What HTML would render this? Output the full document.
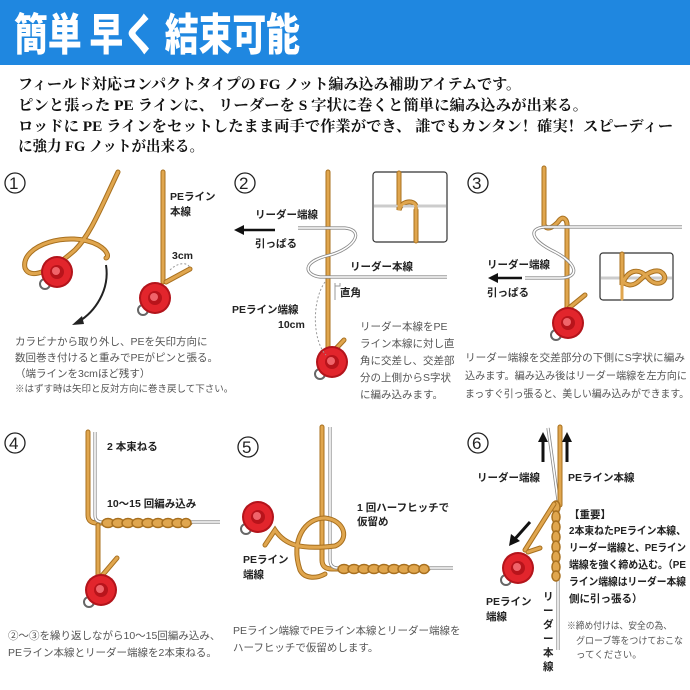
<!DOCTYPE html>
<html><head><meta charset="utf-8">
<style>
html,body{margin:0;padding:0;background:#fff;}
svg{display:block;}
.t{font-family:"Liberation Sans","Noto Sans CJK JP",sans-serif;fill:#555;font-size:10.5px;}
.b{font-family:"Liberation Sans","Noto Sans CJK JP",sans-serif;fill:#222;font-size:10.5px;font-weight:bold;}
.n{font-family:"Liberation Sans","Noto Sans CJK JP",sans-serif;fill:#222;font-size:17px;}
.r{fill:none;stroke:#a8701f;stroke-width:5;stroke-linecap:round;}
.ri{fill:none;stroke:#e0a64e;stroke-width:3;stroke-linecap:round;}
.w{fill:none;stroke:#888;stroke-width:3.2;}
.wi{fill:none;stroke:#fff;stroke-width:1.6;}
</style></head><body>
<svg width="690" height="690" viewBox="0 0 690 690" xmlns="http://www.w3.org/2000/svg">
<defs>
<g id="reel">
<circle cx="-12" cy="12" r="5" fill="none" stroke="#666" stroke-width="2"/>
<circle cx="0" cy="0" r="16" fill="#b3141b"/>
<circle cx="0" cy="0" r="14" fill="#e2252c"/>
<circle cx="0" cy="0" r="7" fill="#b8141b"/>
<circle cx="-1" cy="-1" r="4" fill="#f0646a"/>
</g>
<g id="num"><circle r="10" fill="none" stroke="#222" stroke-width="1.3"/></g>
</defs>
<rect x="0" y="0" width="690" height="65" fill="#1f87e0"/>
<text x="14" y="50" textLength="286" lengthAdjust="spacingAndGlyphs" style="font-family:'Noto Sans CJK JP',sans-serif;font-weight:900;font-size:44px;fill:#fff">簡単 早く 結束可能</text>
<g style="font-family:'Liberation Serif','Noto Serif CJK SC',serif;font-size:15px;fill:#111;font-weight:bold">
<text x="18" y="89" textLength="503" lengthAdjust="spacingAndGlyphs">フィールド対応コンパクトタイプの FG ノット編み込み補助アイテムです。</text>
<text x="18" y="110" textLength="570" lengthAdjust="spacingAndGlyphs">ピンと張った PE ラインに、 リーダーを S 字状に巻くと簡単に編み込みが出来る。</text>
<text x="18" y="131" textLength="655" lengthAdjust="spacingAndGlyphs">ロッドに PE ラインをセットしたまま両手で作業ができ、 誰でもカンタン！確実！スピーディー</text>
<text x="18" y="151" textLength="186" lengthAdjust="spacingAndGlyphs">に強力 FG ノットが出来る。</text>
</g>

<!-- Panel 1 -->
<use href="#num" x="15" y="183"/><text class="n" x="9" y="189">1</text>
<path class="r" d="M118,172 C100,210 90,235 75,250 C50,272 30,280 25,268 C20,245 70,230 98,245 C110,252 108,258 106,258"/>
<path class="ri" d="M118,172 C100,210 90,235 75,250 C50,272 30,280 25,268 C20,245 70,230 98,245 C110,252 108,258 106,258"/>
<path d="M106,265 C110,290 95,312 78,322" fill="none" stroke="#222" stroke-width="2"/>
<path d="M72,325 L82,316 L84,324 Z" fill="#222"/>
<use href="#reel" x="57" y="272"/>
<path class="r" d="M163,172 L163,282"/><path class="ri" d="M163,172 L163,282"/>
<path class="r" d="M166,282 L190,269"/><path class="ri" d="M166,282 L190,269"/>
<path d="M170,270 C178,262 188,262 190,268" fill="none" stroke="#999" stroke-dasharray="2,2"/>
<use href="#reel" x="155" y="298"/>
<text class="b" x="170" y="200">PEライン</text><text class="b" x="170" y="215">本線</text>
<text class="b" x="172" y="259">3cm</text>
<text class="t" x="15" y="345">カラビナから取り外し、PEを矢印方向に</text>
<text class="t" x="15" y="361">数回巻き付けると重みでPEがピンと張る。</text>
<text class="t" x="15" y="377">（端ラインを3cmほど残す）</text>
<text class="t" x="15" y="392" style="font-size:9.5px">※はずす時は矢印と反対方向に巻き戻して下さい。</text>

<!-- Panel 2 -->
<use href="#num" x="245" y="183"/><text class="n" x="239" y="189">2</text>
<path class="r" d="M328,172 L328,355"/><path class="ri" d="M328,172 L328,355"/>
<path class="r" d="M330,355 L344,340"/><path class="ri" d="M330,355 L344,340"/>
<path class="w" d="M298,228 L345,228 C365,230 355,248 330,255 C300,262 305,275 320,277 L447,277"/>
<path class="wi" d="M298,228 L345,228 C365,230 355,248 330,255 C300,262 305,275 320,277 L447,277"/>
<use href="#reel" x="332" y="362"/>
<text class="b" x="255" y="218">リーダー端線</text>
<path d="M240,230 L275,230" stroke="#111" stroke-width="2.5"/><path d="M234,230 L244,225 L244,235 Z" fill="#111"/>
<text class="b" x="255" y="247">引っぱる</text>
<text class="b" x="350" y="270">リーダー本線</text>
<path d="M335,283 L335,300 M335,286 L340,286 L340,283" stroke="#999" fill="none"/>
<text class="b" x="340" y="296">直角</text>
<path d="M325,282 C312,300 312,340 326,355" fill="none" stroke="#999" stroke-dasharray="2,2"/>
<text class="b" x="232" y="313">PEライン端線</text><text class="b" x="278" y="328">10cm</text>
<rect x="373" y="172" width="74" height="70" rx="3" fill="#fff" stroke="#333" stroke-width="1.2"/>
<path class="r" d="M399,173 L399,210 C402,200 414,200 416,206 M416,210 L416,241" stroke-width="4"/>
<path d="M374,206 L446,206" stroke="#999" stroke-width="2.5"/><path d="M374,206 L446,206" stroke="#fff" stroke-width="1"/>
<path class="ri" d="M399,173 L399,210 C402,200 414,200 416,206 L416,241"/>
<text class="t" x="360" y="330">リーダー本線をPE</text>
<text class="t" x="360" y="347">ライン本線に対し直</text>
<text class="t" x="360" y="364">角に交差し、交差部</text>
<text class="t" x="360" y="381">分の上側からS字状</text>
<text class="t" x="360" y="398">に編み込みます。</text>

<!-- Panel 3 -->
<use href="#num" x="478" y="183"/><text class="n" x="472" y="189">3</text>
<path class="r" d="M544,168 L544,225 C548,232 555,225 558,222 C562,215 568,218 567,228 L567,310"/>
<path class="ri" d="M544,168 L544,225 C548,232 555,225 558,222 C562,215 568,218 567,228 L567,310"/>
<path class="r" d="M569,308 L585,295"/><path class="ri" d="M569,308 L585,295"/>
<path class="w" d="M682,227 L545,227 C528,228 530,240 555,252 C578,264 580,278 560,278 L525,278"/>
<path class="wi" d="M682,227 L545,227 C528,228 530,240 555,252 C578,264 580,278 560,278 L525,278"/>
<use href="#reel" x="568" y="323"/>
<text class="b" x="487" y="268">リーダー端線</text>
<path d="M494,278 L522,278" stroke="#111" stroke-width="2.5"/><path d="M488,278 L498,273 L498,283 Z" fill="#111"/>
<text class="b" x="487" y="296">引っぱる</text>
<rect x="600" y="253" width="73" height="47" rx="3" fill="#fff" stroke="#333" stroke-width="1.2"/>
<path d="M601,278 L672,278" stroke="#999" stroke-width="2.5"/><path d="M601,278 L672,278" stroke="#fff" stroke-width="1"/>
<path class="r" d="M622,254 L622,285 C628,268 640,268 648,278 C656,288 668,282 664,275 C660,268 650,270 640,280 C632,288 625,285 622,280" stroke-width="4"/>
<path class="ri" d="M622,254 L622,299 M622,285 C628,268 640,268 648,278 C656,288 668,282 664,275 C660,268 650,270 640,280 C632,288 625,285 622,280"/>
<text class="t" x="465" y="361" textLength="220" lengthAdjust="spacingAndGlyphs">リーダー端線を交差部分の下側にS字状に編み</text>
<text class="t" x="465" y="379" textLength="222" lengthAdjust="spacingAndGlyphs">込みます。編み込み後はリーダー端線を左方向に</text>
<text class="t" x="465" y="397" textLength="224" lengthAdjust="spacingAndGlyphs">まっすぐ引っ張ると、美しい編み込みができます。</text>

<!-- Panel 4 -->
<use href="#num" x="15" y="443"/><text class="n" x="9" y="449">4</text>
<path class="r" d="M88,432 L88,515 Q88,523 97,523 L190,523"/><path class="ri" d="M88,432 L88,515 Q88,523 97,523 L190,523"/>
<path class="w" d="M95,432 L95,515 Q95,522 102,522 L220,522"/><path class="wi" d="M95,432 L95,515 Q95,522 102,522 L220,522"/>
<g fill="#e0a64e" stroke="#a8701f" stroke-width="1.5"><ellipse cx="108" cy="523" rx="6" ry="4.5"/><ellipse cx="118" cy="523" rx="6" ry="4.5"/><ellipse cx="128" cy="523" rx="6" ry="4.5"/><ellipse cx="138" cy="523" rx="6" ry="4.5"/><ellipse cx="148" cy="523" rx="6" ry="4.5"/><ellipse cx="158" cy="523" rx="6" ry="4.5"/><ellipse cx="168" cy="523" rx="6" ry="4.5"/><ellipse cx="178" cy="523" rx="6" ry="4.5"/><ellipse cx="186" cy="523" rx="5" ry="4.5"/></g>
<path class="r" d="M98,525 L98,582"/><path class="ri" d="M98,525 L98,582"/>
<path class="r" d="M100,578 L117,558"/><path class="ri" d="M100,578 L117,558"/>
<use href="#reel" x="101" y="590"/>
<text class="b" x="107" y="450">2 本束ねる</text>
<text class="b" x="107" y="507">10～15 回編み込み</text>
<text class="t" x="8" y="639">②～③を繰り返しながら10～15回編み込み、</text>
<text class="t" x="8" y="656">PEライン本線とリーダー端線を2本束ねる。</text>

<!-- Panel 5 -->
<use href="#num" x="248" y="447"/><text class="n" x="242" y="453">5</text>
<path class="r" d="M322,427 L322,560 Q322,569 332,569 L428,569"/><path class="ri" d="M322,427 L322,560 Q322,569 332,569 L428,569"/>
<path class="w" d="M330,427 L330,560 Q330,568 338,568 L453,568"/><path class="wi" d="M330,427 L330,560 Q330,568 338,568 L453,568"/>
<g fill="#e0a64e" stroke="#a8701f" stroke-width="1.5"><ellipse cx="344" cy="569" rx="6" ry="4.5"/><ellipse cx="354" cy="569" rx="6" ry="4.5"/><ellipse cx="364" cy="569" rx="6" ry="4.5"/><ellipse cx="374" cy="569" rx="6" ry="4.5"/><ellipse cx="384" cy="569" rx="6" ry="4.5"/><ellipse cx="394" cy="569" rx="6" ry="4.5"/><ellipse cx="404" cy="569" rx="6" ry="4.5"/><ellipse cx="414" cy="569" rx="6" ry="4.5"/><ellipse cx="424" cy="569" rx="5" ry="4.5"/></g>
<path class="r" d="M265,545 L275,530 C285,545 300,550 335,546 C350,540 345,520 325,518 C305,518 290,540 300,570 C305,580 318,578 325,574"/>
<path class="ri" d="M265,545 L275,530 C285,545 300,550 335,546 C350,540 345,520 325,518 C305,518 290,540 300,570 C305,580 318,578 325,574"/>
<use href="#reel" x="258" y="517"/>
<text class="b" x="243" y="563">PEライン</text><text class="b" x="243" y="578">端線</text>
<text class="b" x="357" y="511">1 回ハーフヒッチで</text><text class="b" x="357" y="525">仮留め</text>
<text class="t" x="233" y="634">PEライン端線でPEライン本線とリーダー端線を</text>
<text class="t" x="233" y="651">ハーフヒッチで仮留めします。</text>

<!-- Panel 6 -->
<use href="#num" x="478" y="443"/><text class="n" x="472" y="449">6</text>
<path class="w" d="M548,428 L558,500 L558,650"/><path class="wi" d="M548,428 L558,500 L558,650"/>
<path class="r" d="M560,427 L560,505"/><path class="ri" d="M560,427 L560,505"/>
<g fill="#e0a64e" stroke="#a8701f" stroke-width="1.5"><ellipse cx="556" cy="507" rx="4" ry="6"/><ellipse cx="556" cy="517" rx="4" ry="6"/><ellipse cx="556" cy="527" rx="4" ry="6"/><ellipse cx="556" cy="537" rx="4" ry="6"/><ellipse cx="556" cy="547" rx="4" ry="6"/><ellipse cx="556" cy="557" rx="4" ry="6"/><ellipse cx="556" cy="567" rx="4" ry="6"/><ellipse cx="556" cy="576" rx="4" ry="5"/></g>
<path class="r" d="M554,504 L525,550 M528,552 L540,548"/><path class="ri" d="M554,504 L525,550 M528,552 L540,548"/>
<use href="#reel" x="518" y="568"/>
<path d="M543,462 L543,440" stroke="#111" stroke-width="3"/><path d="M538,442 L543,432 L548,442 Z" fill="#111"/>
<path d="M567,462 L567,440" stroke="#111" stroke-width="3"/><path d="M562,442 L567,432 L572,442 Z" fill="#111"/>
<path d="M530,522 L514,540" stroke="#111" stroke-width="3"/><path d="M509,546 L511,534 L520,541 Z" fill="#111"/>
<text class="b" x="477" y="481">リーダー端線</text>
<text class="b" x="568" y="481">PEライン本線</text>
<text class="b" x="486" y="605">PEライン</text><text class="b" x="486" y="620">端線</text>
<g class="b"><text x="543" y="600">リ</text><text x="543" y="614">ー</text><text x="543" y="628">ダ</text><text x="543" y="642">ー</text><text x="543" y="656">本</text><text x="543" y="670">線</text></g>
<text class="b" x="569" y="518">【重要】</text>
<text class="b" x="569" y="534" textLength="117" lengthAdjust="spacingAndGlyphs">2本束ねたPEライン本線、</text>
<text class="b" x="569" y="551" textLength="117" lengthAdjust="spacingAndGlyphs">リーダー端線と、PEライン</text>
<text class="b" x="569" y="568" textLength="117" lengthAdjust="spacingAndGlyphs">端線を強く締め込む。（PE</text>
<text class="b" x="569" y="585" textLength="117" lengthAdjust="spacingAndGlyphs">ライン端線はリーダー本線</text>
<text class="b" x="569" y="602">側に引っ張る）</text>
<text class="t" x="567" y="629" style="font-size:9.5px" textLength="105" lengthAdjust="spacingAndGlyphs">※締め付けは、安全の為、</text>
<text class="t" x="576" y="644" style="font-size:9.5px" textLength="107" lengthAdjust="spacingAndGlyphs">グローブ等をつけておこな</text>
<text class="t" x="576" y="658" style="font-size:9.5px">ってください。</text>
</svg>
</body></html>
